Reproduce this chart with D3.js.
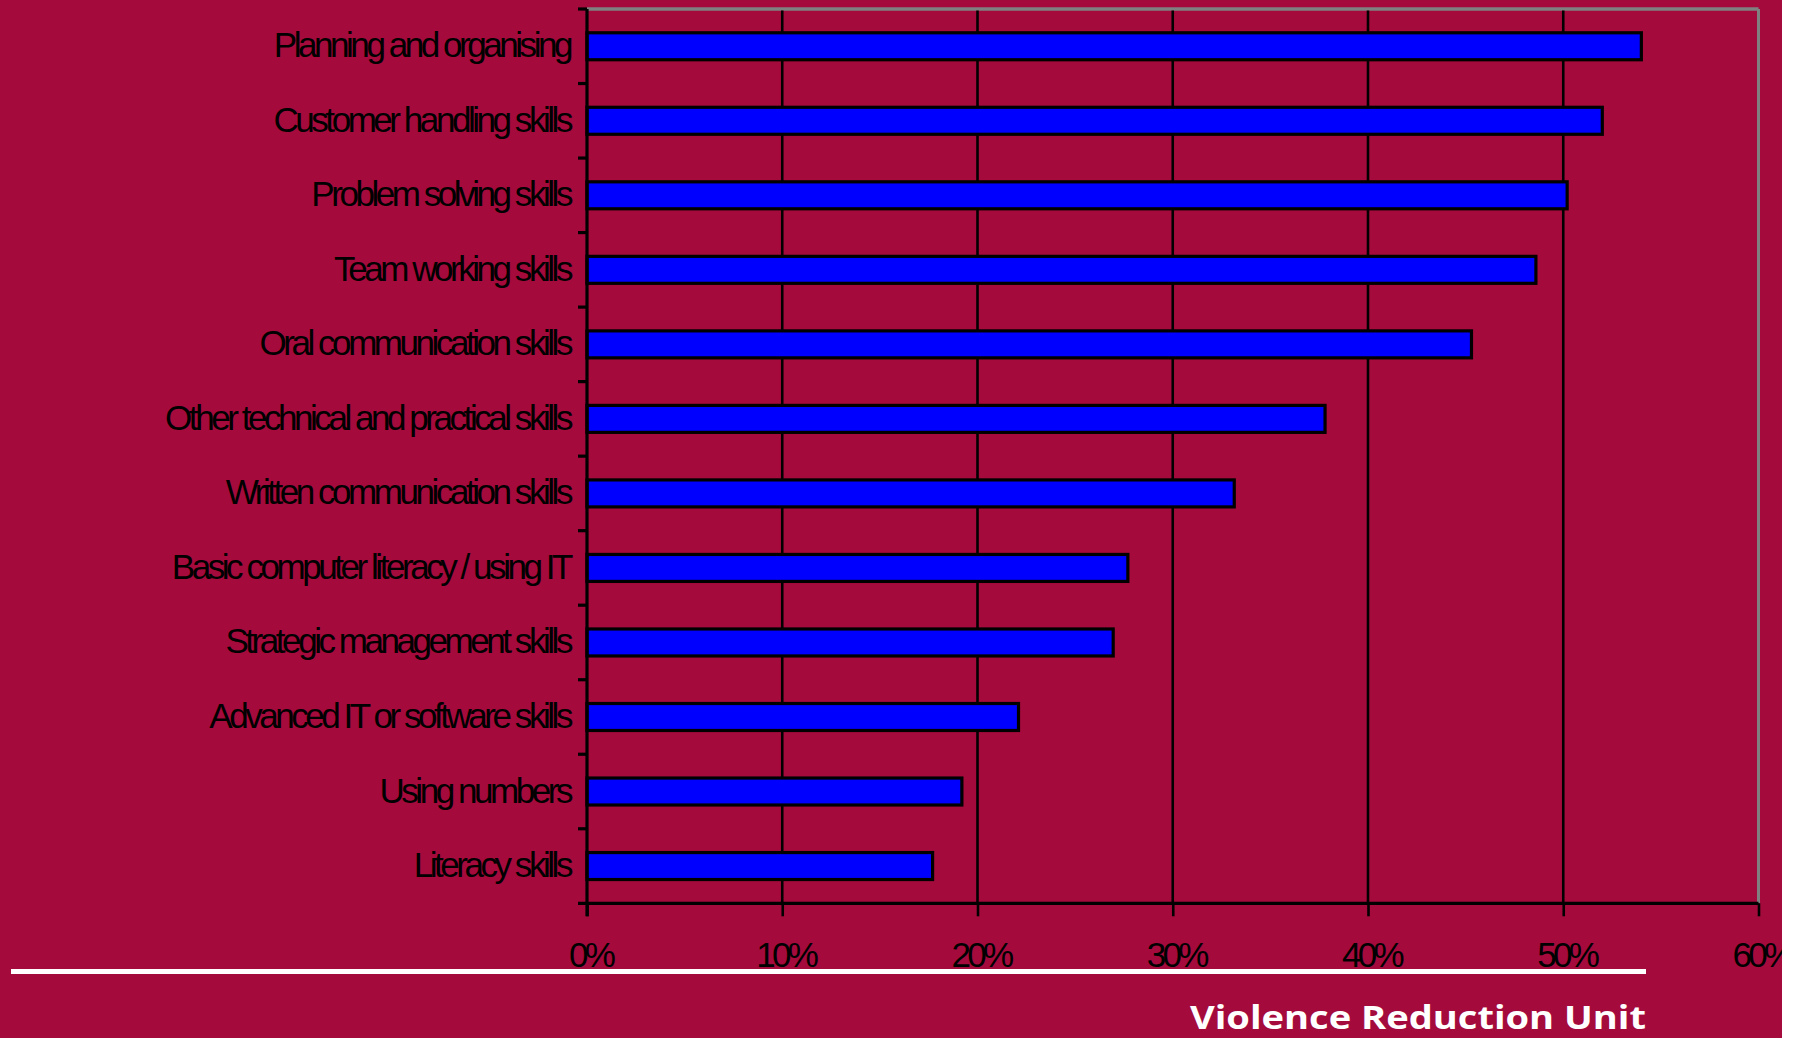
<!DOCTYPE html>
<html>
<head>
<meta charset="utf-8">
<script src="https://cdn.jsdelivr.net/npm/d3@7"></script>
<style>
  html, body { margin: 0; padding: 0; background: #ffffff; }
  svg { display: block; }
</style>
</head>
<body>
<svg id="chart" width="1802" height="1038"></svg>
<script>
const categories = [
  "Planning and organising",
  "Customer handling skills",
  "Problem solving skills",
  "Team working skills",
  "Oral communication skills",
  "Other technical and practical skills",
  "Written communication skills",
  "Basic computer literacy / using IT",
  "Strategic management skills",
  "Advanced IT or software skills",
  "Using numbers",
  "Literacy skills"
];
const values = [54.0, 52.0, 50.2, 48.6, 45.3, 37.8, 33.15, 27.7, 26.95, 22.1, 19.2, 17.7];
const xTicks = [0, 10, 20, 30, 40, 50, 60];
const xTickLabels = ["0%", "10%", "20%", "30%", "40%", "50%", "60%"];
const footerText = "Violence Reduction Unit";

const W = 1802, H = 1038;
const bg = "#a50a3c";
const plot = { left: 587, right: 1758.5, top: 9, bottom: 903.3 };

const svg = d3.select("#chart");
svg.append("defs").append("clipPath").attr("id", "page")
  .append("rect").attr("x", 0).attr("y", 0).attr("width", 1782).attr("height", H);
svg.append("rect").attr("x", 0).attr("y", 0).attr("width", 1782).attr("height", H).attr("fill", bg);
const root = svg.append("g").attr("clip-path", "url(#page)");

const x = d3.scaleLinear().domain([0, 60]).range([plot.left, plot.right]);
const yBand = d3.scaleBand().domain(categories).range([plot.top, plot.bottom]).paddingInner(0).paddingOuter(0);
const barBand = d3.scaleBand().domain(categories).range([plot.top, plot.bottom]).paddingInner(0.638).paddingOuter(0.319);

// gray frame (top and right)
root.append("line").attr("x1", plot.left).attr("x2", plot.right).attr("y1", plot.top).attr("y2", plot.top)
  .attr("stroke", "#808080").attr("stroke-width", 3.5);
root.append("line").attr("x1", plot.right).attr("x2", plot.right).attr("y1", plot.top).attr("y2", plot.bottom)
  .attr("stroke", "#808080").attr("stroke-width", 3);

// vertical gridlines
root.append("g").selectAll("line").data(xTicks.filter(t => t > 0 && t < 60)).join("line")
  .attr("x1", d => x(d)).attr("x2", d => x(d))
  .attr("y1", plot.top + 1.5).attr("y2", plot.bottom)
  .attr("stroke", "#000").attr("stroke-width", 2.6);

// bars
root.append("g").selectAll("rect").data(categories).join("rect")
  .attr("x", x(0))
  .attr("y", d => barBand(d))
  .attr("width", (d, i) => x(values[i]) - x(0))
  .attr("height", barBand.bandwidth())
  .attr("fill", "#0000ff")
  .attr("stroke", "#000")
  .attr("stroke-width", 3.2);

// x axis
const xAxis = d3.axisBottom(x).tickValues(xTicks).tickSize(13).tickFormat((d, i) => xTickLabels[i]);
const gx = root.append("g").attr("transform", `translate(0,${plot.bottom})`).call(xAxis);
gx.select(".domain").remove();
gx.selectAll(".tick line").attr("stroke", "#000").attr("stroke-width", 2.6);
gx.selectAll(".tick text")
  .attr("y", 64).attr("dy", 0).attr("dx", 3)
  .attr("fill", "#000")
  .style("font-family", "'Liberation Sans', Arial, sans-serif")
  .style("font-size", "35px")
  .style("letter-spacing", "-3.7px");
root.append("line").attr("x1", 578).attr("x2", plot.right).attr("y1", plot.bottom).attr("y2", plot.bottom)
  .attr("stroke", "#000").attr("stroke-width", 3.2);

// y axis
const yAxis = d3.axisLeft(yBand).tickSize(0).tickPadding(17);
const gy = root.append("g").attr("transform", `translate(${plot.left},0)`).call(yAxis);
gy.select(".domain").remove();
gy.selectAll(".tick text")
  .attr("dy", 0).attr("y", 11)
  .attr("fill", "#000")
  .style("font-family", "'Liberation Sans', Arial, sans-serif")
  .style("font-size", "35px")
  .style("letter-spacing", "-3.45px");
root.append("line").attr("x1", plot.left).attr("x2", plot.left).attr("y1", plot.top).attr("y2", plot.bottom + 13)
  .attr("stroke", "#000").attr("stroke-width", 3.2);
// category boundary ticks
const boundaries = categories.map(c => yBand(c));
root.append("g").selectAll("line").data(boundaries).join("line")
  .attr("x1", 578).attr("x2", plot.left).attr("y1", d => d).attr("y2", d => d)
  .attr("stroke", "#000").attr("stroke-width", 3.2);

// footer
svg.append("rect").attr("x", 11).attr("y", 969).attr("width", 1635).attr("height", 5).attr("fill", "#ffffff");
svg.append("text").attr("x", 1646).attr("y", 1029).attr("text-anchor", "end")
  .attr("fill", "#ffffff")
  .attr("textLength", 456).attr("lengthAdjust", "spacingAndGlyphs")
  .style("font-family", "'Open Sans', sans-serif")
  .style("font-weight", 700)
  .style("font-size", "33px")
  .text(footerText);
</script>
</body>
</html>
